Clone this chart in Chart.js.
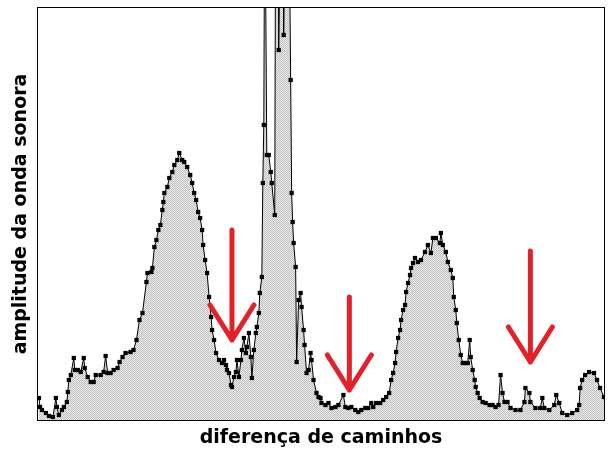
<!doctype html>
<html lang="pt">
<head>
  <meta charset="utf-8">
  <title>amplitude da onda sonora</title>
  <script src="https://cdn.jsdelivr.net/npm/chart.js@4.4.1/dist/chart.umd.min.js"></script>
  <style>
    html, body { margin: 0; padding: 0; background: #fff; }
    #wrap { width: 608px; height: 451px; position: relative; }
  </style>
</head>
<body>
  <div id="wrap"><canvas id="chart"></canvas></div>

  <script>
    // diferença de caminhos (arbitrary units) and measured amplitude
    var pathDiff = [
      1, 2, 4, 8, 11, 15, 18, 19, 21, 24, 26, 29, 30, 31, 33, 36, 37, 40, 43, 46, 47, 50, 53, 56, 58, 63, 66, 68, 70, 73, 76, 80, 82, 85, 88, 93, 96,
      99, 102, 105, 109, 110, 114, 115, 117, 119, 121, 123, 125, 126, 127, 130, 132, 135, 137, 140, 142, 145, 147, 150, 153, 155, 157, 159, 161, 163, 165, 166, 168, 170, 172, 174, 175, 177, 179, 182, 185, 187, 189, 190, 192, 194, 195, 197,
      199, 200, 202, 204, 205, 207, 209, 210, 212, 214, 215, 217, 219, 220, 222, 223, 225, 226, 227,
      228, 230, 232, 234, 235, 238, 239, 241, 242, 244, 246, 247, 249, 251, 253, 254, 255, 256, 257, 259, 260, 262, 264, 265, 267, 268, 270, 272, 274, 275, 277, 280, 282, 284, 285,
      289, 292, 295, 299, 302, 307, 309, 312, 315, 319, 322, 325, 329, 332, 335, 337, 340, 344, 347, 350, 353, 355, 357, 359, 360, 362, 364, 365, 367, 369, 370, 372, 374, 375, 377, 379,
      382, 385, 389, 392, 395, 397, 400, 404, 405, 407, 410, 412, 415, 417, 418, 420, 421, 423, 425, 427, 430, 432, 434, 435, 437, 439, 440, 442, 444, 447, 450, 454, 457, 460, 463, 465, 467, 469, 472,
      475, 480, 485, 489, 490, 494, 495, 500, 505, 507, 509, 514, 519, 521, 524, 527, 532, 537, 542, 544, 545, 547, 550, 554, 559, 562, 565, 569
    ];
    var amplitude = [
      22, 13, 10, 7, 4, 3, 22, 13, 5, 10, 13, 18, 28, 40, 45, 62, 50, 50, 48, 62, 52, 43, 38, 38, 45, 45, 48, 64, 47, 47, 50, 52, 58, 63, 67, 68, 70,
      80, 100, 107, 138, 147, 148, 152, 173, 180, 190, 195, 210, 218, 227, 233, 242, 248, 255, 260, 267, 260, 258, 253, 245, 237, 227, 220, 208, 202, 190, 175, 160, 147, 123, 103, 90, 80, 67, 60, 57, 60, 55, 50, 47, 35, 33, 43,
      48, 60, 43, 60, 70, 82, 67, 73, 87, 63, 42, 70, 87, 93, 107, 127, 143, 237, 295,
      560, 265, 265, 248, 237, 205, 560, 600, 370, 520, 560, 385, 540, 500, 450, 340, 227, 198, 177, 153, 58, 120, 127, 113, 90, 75, 47, 50, 67, 60, 40, 27, 23, 22, 17,
      15, 17, 12, 13, 15, 25, 13, 12, 13, 10, 8, 10, 12, 12, 17, 13, 17, 17, 20, 23, 27, 40, 47, 57, 68, 82, 90, 100, 110, 115, 128, 137, 145, 152, 157, 162,
      158, 160, 168, 175, 167, 182, 182, 177, 187, 175, 168, 158, 150, 142, 123, 110, 97, 80, 65, 57, 57, 57, 80, 63, 50, 40, 33, 27, 22, 18, 17, 15, 15, 13, 15, 45, 27, 18, 18,
      12, 10, 10, 18, 32, 27, 18, 12, 12, 22, 12, 10, 15, 25, 17, 7, 5, 7, 10, 15, 32, 40, 45, 48, 47, 40, 32, 23
    ];

    // red arrows pointing at the minima: x, tail and tip amplitude
    var arrowX = [195, 313, 495];
    var arrowTail = [190, 123, 169];
    var arrowTip = [80, 30, 58];

    var xRange = [0, 569];
    var yRange = [0, 412];

    var points = pathDiff.map(function (x, i) { return { x: x, y: amplitude[i] }; });

    // light grey halftone fill like the original
    function makePattern() {
      var c = document.createElement('canvas');
      c.width = 2; c.height = 2;
      var g = c.getContext('2d');
      g.fillStyle = '#e9e9e9';
      g.fillRect(0, 0, 2, 2);
      g.fillStyle = '#c2c2c2';
      g.fillRect(0, 0, 1, 1);
      g.fillRect(1, 1, 1, 1);
      return g.createPattern(c, 'repeat');
    }

    var frame = {
      id: 'frame',
      afterDraw: function (chart) {
        var a = chart.chartArea, ctx = chart.ctx;
        ctx.save();
        ctx.strokeStyle = '#000';
        ctx.lineWidth = 1;
        ctx.strokeRect(a.left - 0.5, a.top - 0.5, a.right - a.left + 1, a.bottom - a.top + 1);
        ctx.restore();
      }
    };

    var arrows = {
      id: 'arrows',
      afterDraw: function (chart) {
        var ctx = chart.ctx, xs = chart.scales.x, ys = chart.scales.y;
        ctx.save();
        ctx.strokeStyle = 'rgb(228, 32, 40)';
        ctx.lineWidth = 5;
        ctx.lineCap = 'round';
        ctx.lineJoin = 'round';
        for (var i = 0; i < arrowX.length; i++) {
          var px = xs.getPixelForValue(arrowX[i]);
          var top = ys.getPixelForValue(arrowTail[i]);
          var tip = ys.getPixelForValue(arrowTip[i]);
          ctx.beginPath();
          ctx.moveTo(px, top);
          ctx.lineTo(px, tip);
          ctx.moveTo(px - 22, tip - 35);
          ctx.lineTo(px, tip);
          ctx.lineTo(px + 22, tip - 35);
          ctx.stroke();
        }
        ctx.restore();
      }
    };

    var titleFont = { family: 'DejaVu Sans', size: 19, weight: 'bold' };

    var chart = new Chart(document.getElementById('chart'), {
      type: 'line',
      data: {
        datasets: [{
          data: points,
          borderColor: '#000',
          borderWidth: 1,
          backgroundColor: makePattern(),
          fill: 'origin',
          tension: 0,
          pointStyle: 'rect',
          pointRadius: 3,
          pointBackgroundColor: '#000',
          pointBorderColor: '#000',
          pointBorderWidth: 0
        }]
      },
      options: {
        responsive: true,
        maintainAspectRatio: false,
        animation: false,
        layout: { padding: { left: 5, top: 8, right: 1, bottom: 0 } },
        plugins: { legend: { display: false }, tooltip: { enabled: false } },
        scales: {
          x: {
            type: 'linear',
            min: xRange[0], max: xRange[1],
            ticks: { display: false },
            grid: { display: false, drawTicks: false },
            border: { display: false },
            title: { display: true, text: 'diferença de caminhos', color: '#000', font: titleFont, padding: { top: 6.2, bottom: 2 } }
          },
          y: {
            min: yRange[0], max: yRange[1],
            ticks: { display: false },
            grid: { display: false, drawTicks: false },
            border: { display: false },
            title: { display: true, text: 'amplitude da onda sonora', color: '#000', font: titleFont, padding: { top: 5, bottom: 5.2 } }
          }
        }
      },
      plugins: [frame, arrows]
    });
  </script>
</body>
</html>
